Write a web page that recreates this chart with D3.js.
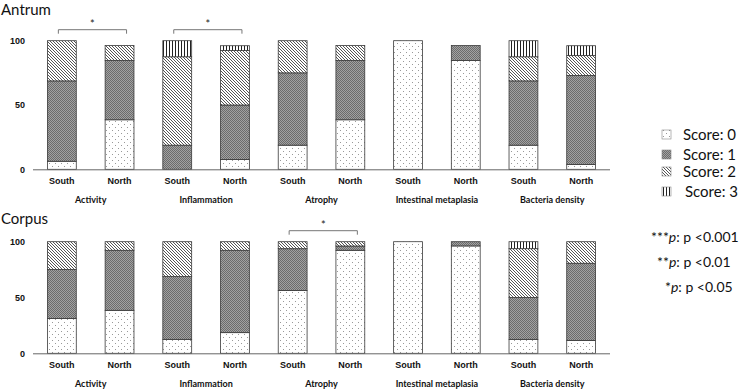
<!DOCTYPE html>
<html>
<head>
<meta charset="utf-8">
<script src="https://cdn.jsdelivr.net/npm/d3@7"></script>
<style>
  body { margin: 0; background: #fff; }
  svg { display: block; font-family: Lato, "Liberation Sans", sans-serif; }
</style>
</head>
<body>
<svg id="chart"></svg>
<script>
// categories
const groups = ["Activity", "Inflammation", "Atrophy", "Intestinal metaplasia", "Bacteria density"];
const regions = ["South", "North"];
const scoreLabels = ["Score: 0", "Score: 1", "Score: 2", "Score: 3"];
const yTicks = [0, 50, 100];
const pLabels = [["***", "p <0.001"], ["**", "p <0.01"], ["*", "p <0.05"]];

// antrum, % per score (South, North for each group)
const antrumScore0 = [6.25, 38.5, 0, 7.7, 18.75, 38.5, 100, 84.6, 18.75, 3.8];
const antrumScore1 = [62.5, 46.2, 18.75, 42.3, 56.25, 46.2, 0, 11.6, 50, 69.2];
const antrumScore2 = [31.25, 11.5, 68.75, 42.3, 25, 11.5, 0, 0, 18.75, 15.4];
const antrumScore3 = [0, 0, 12.5, 3.8, 0, 0, 0, 0, 12.5, 7.7];

// corpus
const corpusScore0 = [31.25, 38.5, 12.5, 18.5, 56.25, 92.3, 100, 96.2, 12.5, 11.5];
const corpusScore1 = [43.75, 53.8, 56.25, 73.8, 37.5, 3.85, 0, 3.8, 37.5, 69.2];
const corpusScore2 = [25, 7.7, 31.25, 7.7, 6.25, 3.85, 0, 0, 43.75, 19.3];
const corpusScore3 = [0, 0, 0, 0, 0, 0, 0, 0, 6.25, 0];

// significance brackets: [first bar, second bar]
const antrumSig = [[0, 1], [2, 3]];
const corpusSig = [[4, 5]];

const width = 740, height = 390;
const svg = d3.select("#chart").attr("width", width).attr("height", height);

// patterns for the scores
const defs = svg.append("defs");
const p0 = defs.append("pattern").attr("id", "pat0").attr("patternUnits", "userSpaceOnUse")
  .attr("width", 6).attr("height", 6);
p0.append("rect").attr("width", 6).attr("height", 6).attr("fill", "#fff");
p0.append("rect").attr("x", 1).attr("y", 1).attr("width", 1).attr("height", 1).attr("fill", "#999");
p0.append("rect").attr("x", 4).attr("y", 4).attr("width", 1).attr("height", 1).attr("fill", "#999");

const p1 = defs.append("pattern").attr("id", "pat1").attr("patternUnits", "userSpaceOnUse")
  .attr("width", 2).attr("height", 2);
p1.append("rect").attr("width", 2).attr("height", 2).attr("fill", "#a2a2a2");
p1.append("rect").attr("width", 1).attr("height", 1).attr("fill", "#6c6c6c");
p1.append("rect").attr("x", 1).attr("y", 1).attr("width", 1).attr("height", 1).attr("fill", "#6c6c6c");

const p2 = defs.append("pattern").attr("id", "pat2").attr("patternUnits", "userSpaceOnUse")
  .attr("width", 3).attr("height", 3);
p2.append("rect").attr("width", 3).attr("height", 3).attr("fill", "#fff");
p2.append("path").attr("d", "M0,0 L3,3 M-1,2 L1,4 M2,-1 L4,1")
  .attr("stroke", "#555").attr("stroke-width", 1);

const p3 = defs.append("pattern").attr("id", "pat3").attr("patternUnits", "userSpaceOnUse")
  .attr("width", 3).attr("height", 3);
p3.append("rect").attr("width", 3).attr("height", 3).attr("fill", "#fff");
p3.append("rect").attr("x", 1).attr("width", 1).attr("height", 3).attr("fill", "#222");

const fills = ["url(#pat0)", "url(#pat1)", "url(#pat2)", "url(#pat3)"];

const bars = d3.range(groups.length * regions.length);
const x = d3.scaleBand()
  .domain(bars)
  .range([33, 610])
  .paddingInner(0.5)
  .paddingOuter(0.25);

function drawPanel(title, series, sig, y0, y100, titleY) {
  const y = d3.scaleLinear().domain([0, 100]).range([y0, y100]);
  const g = svg.append("g");

  g.append("text").attr("x", 1).attr("y", titleY)
    .attr("font-size", 15).attr("fill", "#111").text(title);

  // stacked bars
  const rows = bars.map(i => {
    const r = { i: i };
    series.forEach((s, k) => r["s" + k] = s[i]);
    return r;
  });
  const stack = d3.stack().keys(series.map((s, k) => "s" + k))(rows);
  stack.forEach((layer, k) => {
    g.append("g").selectAll("rect")
      .data(layer.filter(d => d[1] - d[0] > 0))
      .enter().append("rect")
      .attr("x", d => x(d.data.i))
      .attr("width", x.bandwidth())
      .attr("y", d => y(d[1]))
      .attr("height", d => y(d[0]) - y(d[1]))
      .attr("fill", fills[k])
      .attr("stroke", "#3a3a3a")
      .attr("stroke-width", 0.8);
  });

  // x axis line, no ticks
  const xAxis = g.append("g").attr("transform", `translate(0,${y0})`)
    .call(d3.axisBottom(x).tickSize(0).tickFormat(i => regions[i % 2]));
  xAxis.select(".domain").attr("stroke", "#666").attr("d", `M33,0.5H610`);
  xAxis.selectAll("text").attr("dy", 0).attr("y", 15)
    .attr("font-size", 9).attr("font-weight", "bold").attr("fill", "#111").attr("font-family", null);

  // y axis labels only
  const yAxis = g.append("g").attr("transform", "translate(25,0)")
    .call(d3.axisLeft(y).tickValues(yTicks).tickSize(0).tickPadding(0));
  yAxis.select(".domain").remove();
  yAxis.selectAll("text").attr("font-size", 9).attr("font-weight", "bold")
    .attr("fill", "#111").attr("font-family", null);

  // group labels
  g.append("g").selectAll("text")
    .data(groups)
    .enter().append("text")
    .attr("x", (d, j) => (x(2 * j) + x(2 * j + 1) + x.bandwidth()) / 2)
    .attr("y", y0 + 34)
    .attr("text-anchor", "middle")
    .attr("font-size", 9).attr("font-weight", "bold").attr("fill", "#111")
    .text(d => d);

  // significance brackets
  sig.forEach(([a, b]) => {
    const xa = x(a) + x.bandwidth() / 2 - 3.5;
    const xb = x(b) + x.bandwidth() / 2 + 7;
    const by = y100 - 11;
    g.append("path")
      .attr("d", `M${xa},${by + 4}V${by}H${xb}V${by + 4}`)
      .attr("fill", "none").attr("stroke", "#777").attr("stroke-width", 1);
    g.append("text").attr("x", (xa + xb) / 2).attr("y", by - 2)
      .attr("text-anchor", "middle").attr("font-size", 11).attr("fill", "#222").text("*");
  });
}

drawPanel("Antrum", [antrumScore0, antrumScore1, antrumScore2, antrumScore3], antrumSig, 169.3, 40.7, 15);
drawPanel("Corpus", [corpusScore0, corpusScore1, corpusScore2, corpusScore3], corpusSig, 353.3, 241.7, 224);

// score legend
const legendY = [135, 155, 172, 192];
const legend = svg.append("g").selectAll("g")
  .data(scoreLabels)
  .enter().append("g")
  .attr("transform", (d, k) => `translate(662,${legendY[k]})`);
legend.append("rect").attr("x", 0).attr("y", -5).attr("width", 9).attr("height", 9)
  .attr("fill", (d, k) => fills[k]).attr("stroke", "#888").attr("stroke-width", 0.6);
legend.append("text").attr("x", (d, k) => k === 3 ? 23 : 21).attr("y", 5)
  .attr("font-size", 15).attr("fill", "#111").text(d => d);

// p-value legend
const pY = [242, 267, 292];
const pX = [651, 657, 665];
const pText = svg.append("g").selectAll("text")
  .data(pLabels)
  .enter().append("text")
  .attr("x", (d, k) => pX[k]).attr("y", (d, k) => pY[k])
  .attr("font-size", 14).attr("fill", "#111");
pText.append("tspan").text(d => d[0]);
pText.append("tspan").attr("font-style", "italic").text("p");
pText.append("tspan").text(d => ": " + d[1]);
</script>
</body>
</html>
